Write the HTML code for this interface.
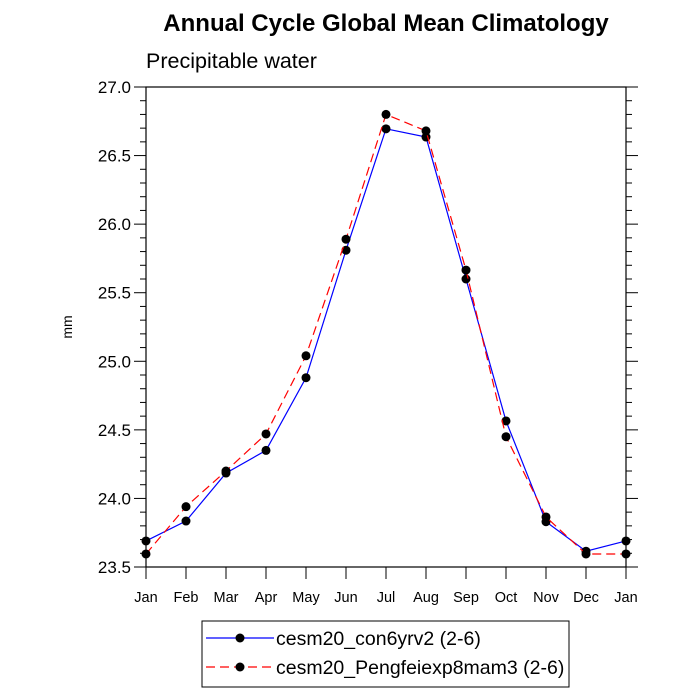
<!DOCTYPE html>
<html><head><meta charset="utf-8"><style>body{margin:0;background:#fff}svg{display:block;font-family:"Liberation Sans",Arial,sans-serif}</style></head>
<body>
<svg id="c" width="700" height="700"></svg>
<script>
const months=["Jan","Feb","Mar","Apr","May","Jun","Jul","Aug","Sep","Oct","Nov","Dec","Jan"];
const seriesA=[23.69,23.835,24.185,24.35,24.88,25.81,26.695,26.635,25.60,24.565,23.83,23.615,23.69];
const seriesB=[23.595,23.94,24.20,24.47,25.04,25.89,26.80,26.68,25.665,24.45,23.865,23.595,23.595];
const yTicks=["23.5","24.0","24.5","25.0","25.5","26.0","26.5","27.0"];
const NS="http://www.w3.org/2000/svg",svg=document.getElementById("c");
const L=146,R=626,T=87,B=567,yMin=23.5,yMax=27.0;
const xs=i=>L+i*(R-L)/(months.length-1);
const ys=v=>B-(v-yMin)/(yMax-yMin)*(B-T);
function mk(t,a,p){const e=document.createElementNS(NS,t);for(const k in a)e.setAttribute(k,a[k]);(p||svg).appendChild(e);return e;}
let e;
e=mk("text",{x:386,y:31,"text-anchor":"middle","font-size":24,"font-weight":"bold"});e.textContent="Annual Cycle Global Mean Climatology";


e=mk("text",{x:146,y:68,"font-size":21.5});e.textContent="Precipitable water";


e=mk("text",{x:0,y:0,"font-size":14,"text-anchor":"middle",transform:"translate(72,327) rotate(-90)"});e.textContent="mm";


e=mk("rect",{x:L,y:T,width:R-L,height:B-T,fill:"none",stroke:"#000","stroke-width":1.2});


for(let k=0;k<=35;k++){const v=yMin+k*0.1,y=ys(v),maj=k%5===0,len=maj?12:6;
 mk("line",{x1:L-len,x2:L,y1:y,y2:y,stroke:"#000","stroke-width":1});
 mk("line",{x1:R,x2:R+len,y1:y,y2:y,stroke:"#000","stroke-width":1});}
yTicks.forEach(t=>{e=mk("text",{x:L-15,y:ys(parseFloat(t))+6,"text-anchor":"end","font-size":17});e.textContent=t;

});
months.forEach((m,i)=>{mk("line",{x1:xs(i),x2:xs(i),y1:B,y2:B+12,stroke:"#000","stroke-width":1});
 e=mk("text",{x:xs(i),y:B+35,"text-anchor":"middle","font-size":14.5});e.textContent=m;
 
 });
function series(vals,color,dash,name){
 const g=mk("g",{});
 
 
 mk("polyline",{points:vals.map((v,i)=>xs(i)+","+ys(v)).join(" "),fill:"none",stroke:color,"stroke-width":1.2,"stroke-dasharray":dash},g);
 vals.forEach((v,i)=>{const c=mk("circle",{cx:xs(i),cy:ys(v),r:4.5,fill:"#000"},g);
 
 });
}
series(seriesA,"#0000ff","none","series-con6yrv2");
series(seriesB,"#ff0000","9,5","series-pengfeiexp8mam3");
e=mk("rect",{x:202,y:621,width:367,height:66,fill:"none",stroke:"#000","stroke-width":1});


mk("line",{x1:206,x2:274,y1:638,y2:638,stroke:"#0000ff","stroke-width":1.2});
mk("circle",{cx:240,cy:638,r:4.5,fill:"#000"});
e=mk("text",{x:276,y:645,"font-size":19.5});e.textContent="cesm20_con6yrv2 (2-6)";


mk("line",{x1:206,x2:274,y1:667,y2:667,stroke:"#ff0000","stroke-width":1.2,"stroke-dasharray":"9,5"});
mk("circle",{cx:240,cy:667,r:4.5,fill:"#000"});
e=mk("text",{x:276,y:674,"font-size":19.5});e.textContent="cesm20_Pengfeiexp8mam3 (2-6)";


</script>
</body></html>
